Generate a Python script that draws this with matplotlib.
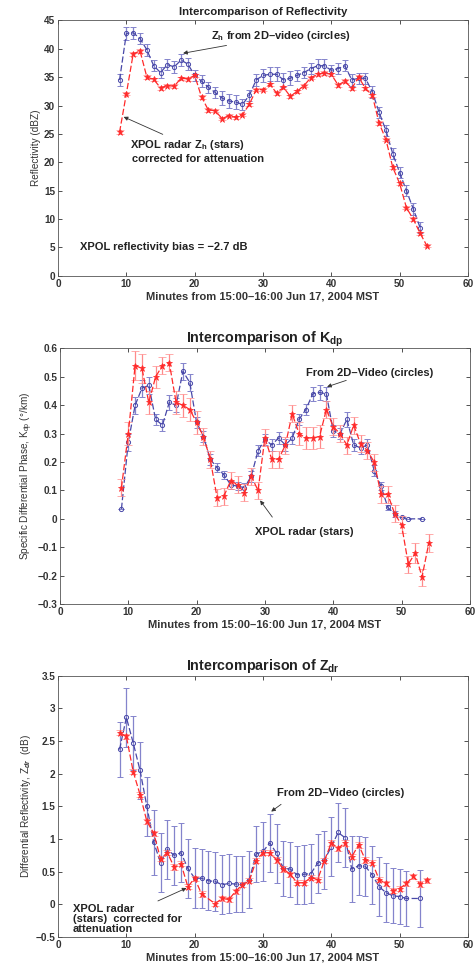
import matplotlib
matplotlib.use("Agg")
from matplotlib import pyplot as plt
import numpy as np

plt.rcParams['font.family'] = ['Liberation Sans', 'DejaVu Sans']
plt.rcParams['mathtext.fontset'] = 'custom'
plt.rcParams['mathtext.rm'] = 'Liberation Sans:bold'
plt.rcParams['mathtext.it'] = 'Liberation Sans:bold:italic'
plt.rcParams['mathtext.bf'] = 'Liberation Sans:bold'

BLUE = '#4848a8'
BLUE_ERR = '#8484cc'
RED = '#ff2a2a'
RED_ERR = '#ff8a8a'
XLABEL = "Minutes from 15:00\u201316:00 Jun 17, 2004 MST"
NOTE_SIZE = 8.0

# --- reflectivity (dBZ) ---
refl_t_video = list(range(9, 54))
refl_video = [34.5, 42.7, 42.8, 41.8, 39.8, 37.0, 35.8, 37.2, 36.8, 38.0, 37.3, 35.3,
              34.3, 33.2, 32.3, 31.3, 30.8, 30.6, 30.2, 31.8, 34.5, 35.3, 35.5, 35.5,
              34.5, 34.8, 35.3, 35.8, 36.5, 37.0, 37.0, 36.2, 36.5, 37.0, 34.5, 34.8,
              34.8, 32.4, 28.8, 25.6, 21.5, 18.2, 15.0, 11.8, 8.5]
refl_video_err = [1.1, 1.1, 1.0, 1.0, 1.0, 1.0, 1.0, 1.0, 1.0, 1.0, 1.0, 1.0,
                  1.0, 1.0, 1.0, 1.2, 1.2, 1.2, 1.0, 1.0, 1.0, 1.2, 1.2, 1.2,
                  1.2, 1.2, 1.0, 1.0, 1.0, 1.2, 1.2, 1.0, 1.0, 1.0, 1.0, 1.0,
                  1.0, 1.0, 1.0, 1.0, 1.0, 1.0, 1.0, 1.0, 1.0]
refl_t_radar = list(range(9, 55))
refl_radar = [25.3, 32.1, 39.1, 39.6, 35.0, 34.6, 33.1, 33.5, 33.4, 34.8, 34.7, 35.3,
              31.5, 29.2, 29.1, 27.7, 28.2, 27.9, 28.4, 30.2, 32.8, 32.8, 33.7, 32.2,
              33.2, 31.6, 32.5, 33.5, 34.9, 35.5, 35.7, 35.5, 33.6, 34.3, 33.0, 35.0,
              33.0, 31.8, 26.9, 24.0, 19.1, 16.3, 12.0, 10.0, 7.5, 5.3]
refl_radar_err = [0.3] * len(refl_radar)

# --- Kdp (deg/km) ---
kdp_t_video = list(range(9, 52)) + [53]
kdp_video = [0.035, 0.27, 0.40, 0.46, 0.47, 0.35, 0.33, 0.41, 0.40, 0.52, 0.48, 0.34,
             0.29, 0.21, 0.18, 0.155, 0.12, 0.115, 0.11, 0.15, 0.24, 0.28, 0.26, 0.285,
             0.26, 0.285, 0.35, 0.385, 0.44, 0.445, 0.44, 0.31, 0.30, 0.35, 0.26, 0.25,
             0.26, 0.17, 0.115, 0.04, 0.018, 0.005, 0.0, 0.0]
kdp_video_err = [0.0, 0.03, 0.03, 0.03, 0.03, 0.02, 0.02, 0.025, 0.025, 0.03, 0.03, 0.02,
                 0.02, 0.02, 0.015, 0.015, 0.015, 0.015, 0.015, 0.02, 0.02, 0.02, 0.02, 0.02,
                 0.02, 0.02, 0.02, 0.02, 0.025, 0.025, 0.025, 0.02, 0.02, 0.025, 0.02, 0.02,
                 0.02, 0.02, 0.015, 0.01, 0.01, 0.0, 0.0, 0.0]
kdp_t_radar = list(range(9, 55))
kdp_radar = [0.11, 0.30, 0.54, 0.53, 0.41, 0.50, 0.54, 0.55, 0.41, 0.40, 0.385, 0.34,
             0.29, 0.21, 0.075, 0.08, 0.135, 0.12, 0.092, 0.15, 0.10, 0.285, 0.21, 0.21,
             0.26, 0.37, 0.30, 0.285, 0.285, 0.29, 0.385, 0.325, 0.30, 0.26, 0.33, 0.265,
             0.24, 0.20, 0.086, 0.086, 0.018, -0.02, -0.16, -0.12, -0.205, -0.085]
kdp_radar_err = [0.03, 0.04, 0.05, 0.05, 0.04, 0.04, 0.03, 0.03, 0.04, 0.04, 0.04, 0.04,
                 0.03, 0.03, 0.03, 0.03, 0.03, 0.03, 0.03, 0.03, 0.03, 0.03, 0.03, 0.03,
                 0.03, 0.03, 0.04, 0.04, 0.04, 0.04, 0.03, 0.03, 0.03, 0.03, 0.03, 0.03,
                 0.03, 0.03, 0.03, 0.03, 0.03, 0.03, 0.03, 0.035, 0.03, 0.03]

# --- Zdr (dB) ---
zdr_t_video = list(range(9, 52)) + [53]
zdr_video = [2.37, 2.86, 2.47, 2.05, 1.50, 0.95, 0.64, 0.84, 0.75, 0.79, 0.55, 0.40,
             0.40, 0.36, 0.35, 0.30, 0.32, 0.31, 0.31, 0.38, 0.77, 0.81, 0.94, 0.78,
             0.55, 0.54, 0.45, 0.46, 0.47, 0.63, 0.68, 0.88, 1.10, 1.02, 0.54, 0.59,
             0.58, 0.45, 0.27, 0.18, 0.13, 0.12, 0.09, 0.09]
zdr_video_err = [0.42, 0.45, 0.42, 0.43, 0.45, 0.50, 0.45, 0.45, 0.45, 0.45, 0.45, 0.46,
                 0.45, 0.45, 0.45, 0.45, 0.45, 0.43, 0.43, 0.43, 0.43, 0.45, 0.45, 0.45,
                 0.42, 0.42, 0.45, 0.45, 0.45, 0.45, 0.45, 0.45, 0.45, 0.45, 0.50, 0.45,
                 0.45, 0.45, 0.45, 0.45, 0.42, 0.42, 0.42, 0.43]
zdr_t_radar = list(range(9, 22)) + list(range(23, 55))
zdr_radar = [2.63, 2.57, 2.03, 1.68, 1.27, 1.09, 0.70, 0.79, 0.57, 0.62, 0.27, 0.40,
             0.16, 0.01, 0.09, 0.075, 0.20, 0.30, 0.36, 0.67, 0.79, 0.79, 0.68, 0.54,
             0.46, 0.33, 0.33, 0.41, 0.38, 0.67, 0.94, 0.86, 0.94, 0.73, 0.91, 0.68,
             0.64, 0.38, 0.32, 0.21, 0.24, 0.32, 0.43, 0.31, 0.37]
zdr_radar_err = [0.04] * len(zdr_radar)


def draw_pair(ax, tv, v, ve, tr, r, re):
    ax.errorbar(tv, v, yerr=ve, fmt='--', color=BLUE, ecolor=BLUE_ERR, lw=0.9,
                elinewidth=0.9, capsize=2.2, capthick=0.8, marker='o', ms=3,
                mfc='none', mec=BLUE, mew=0.7, dashes=(5, 2), zorder=2)
    ax.errorbar(tr, r, yerr=re, fmt='--', color=RED, ecolor=RED_ERR, lw=0.9,
                elinewidth=0.9, capsize=3.2, capthick=0.9, marker='*', ms=4.5,
                mfc=RED, mec=RED, mew=0.5, dashes=(5, 2), zorder=3)


def style_axes(ax, ylim, yticks, title, title_size, ylabel):
    ax.set_xlim(0, 60)
    ax.set_ylim(*ylim)
    ax.set_xticks(range(0, 61, 10))
    ax.set_yticks(yticks)
    ax.tick_params(direction='in', top=True, right=True, length=3, width=0.6,
                   labelsize=7.2, colors='#333333', pad=2)
    for lab in ax.get_xticklabels() + ax.get_yticklabels():
        lab.set_fontweight('bold')
    for sp in ax.spines.values():
        sp.set_linewidth(0.6)
        sp.set_color('#555555')
    ax.set_title(title, fontsize=title_size, fontweight='bold', color='#222222', pad=4)
    ax.set_xlabel(XLABEL, fontsize=8.0, fontweight='bold', color='#333333', labelpad=2)
    ax.set_ylabel(ylabel, fontsize=7.2, color='#333333', labelpad=2)


fig = plt.figure(figsize=(4.76, 9.68), dpi=100)

# reflectivity
ax1 = fig.add_axes([0.122, 0.715, 0.861, 0.264])
draw_pair(ax1, refl_t_video, refl_video, refl_video_err,
          refl_t_radar, refl_radar, refl_radar_err)
style_axes(ax1, (0, 45), range(0, 46, 5), "Intercomparison of Reflectivity", 8.2,
           "Reflectivity (dBZ)")
ax1.annotate("Z$_\\mathregular{h}$ from 2D\u2013video (circles)", xy=(18.3, 39.2),
             xytext=(22.4, 42.3), fontsize=NOTE_SIZE, fontweight='bold', color='#222222',
             va='center', arrowprops=dict(arrowstyle='-|>', color='#333333', lw=0.6,
                                          mutation_scale=6, shrinkA=0, shrinkB=0))
ax1.annotate("XPOL radar Z$_\\mathregular{h}$ (stars)", xy=(9.6, 28.0),
             xytext=(10.5, 23.0), fontsize=NOTE_SIZE, fontweight='bold', color='#222222',
             va='center', arrowprops=dict(arrowstyle='-|>', color='#333333', lw=0.6,
                                          mutation_scale=6, shrinkA=2, shrinkB=0))
ax1.text(10.8, 20.6, "corrected for attenuation", fontsize=NOTE_SIZE, fontweight='bold',
         color='#222222', va='center')
ax1.text(3.2, 5.1, "XPOL reflectivity bias = \u22122.7 dB", fontsize=NOTE_SIZE,
         fontweight='bold', color='#222222', va='center')

# Kdp
ax2 = fig.add_axes([0.126, 0.376, 0.861, 0.264])
draw_pair(ax2, kdp_t_video, kdp_video, kdp_video_err,
          kdp_t_radar, kdp_radar, kdp_radar_err)
style_axes(ax2, (-0.3, 0.6), np.round(np.arange(-0.3, 0.61, 0.1), 1),
           "Intercomparison of K$_\\mathregular{dp}$", 10.3,
           "Specific Differential Phase, K$_\\mathregular{dp}$ (\u00b0/km)")
ax2.set_yticklabels(['\u22120.3', '\u22120.2', '\u22120.1', '0', '0.1', '0.2', '0.3',
                     '0.4', '0.5', '0.6'], fontweight='bold')
ax2.annotate("From 2D\u2013Video (circles)", xy=(39.1, 0.465), xytext=(36.0, 0.515),
             fontsize=NOTE_SIZE, fontweight='bold', color='#222222', va='center',
             arrowprops=dict(arrowstyle='-|>', color='#333333', lw=0.6,
                             mutation_scale=6, shrinkA=0, shrinkB=0))
ax2.annotate("XPOL radar (stars)", xy=(29.3, 0.065), xytext=(28.5, -0.045),
             fontsize=NOTE_SIZE, fontweight='bold', color='#222222', va='center',
             arrowprops=dict(arrowstyle='-|>', color='#333333', lw=0.6,
                             mutation_scale=6, shrinkA=6, shrinkB=0,
                             relpos=(0.25, 1.0)))

# Zdr
ax3 = fig.add_axes([0.122, 0.032, 0.861, 0.270])
draw_pair(ax3, zdr_t_video, zdr_video, zdr_video_err,
          zdr_t_radar, zdr_radar, zdr_radar_err)
style_axes(ax3, (-0.5, 3.5), np.arange(-0.5, 3.51, 0.5),
           "Intercomparison of Z$_\\mathregular{dr}$", 10.3,
           "Differential Reflectivity, Z$_\\mathit{dr}$  (dB)")
ax3.set_yticklabels(['\u22120.5', '0', '0.5', '1', '1.5', '2', '2.5', '3', '3.5'],
                    fontweight='bold')
ax3.annotate("From 2D\u2013Video (circles)", xy=(31.2, 1.42), xytext=(32.0, 1.7),
             fontsize=NOTE_SIZE, fontweight='bold', color='#222222', va='center',
             arrowprops=dict(arrowstyle='-|>', color='#333333', lw=0.6,
                             mutation_scale=6, shrinkA=4, shrinkB=0,
                             relpos=(0.1, 0.0)))
ax3.annotate("XPOL radar\n(stars)  corrected for\nattenuation", xy=(18.8, 0.25),
             xytext=(2.2, -0.22), fontsize=NOTE_SIZE, fontweight='bold', color='#222222',
             va='center', linespacing=1.0,
             arrowprops=dict(arrowstyle='-|>', color='#333333', lw=0.6,
                             mutation_scale=6, shrinkA=0, shrinkB=0,
                             relpos=(0.6, 0.8)))

fig.savefig("out.png", dpi=100)
